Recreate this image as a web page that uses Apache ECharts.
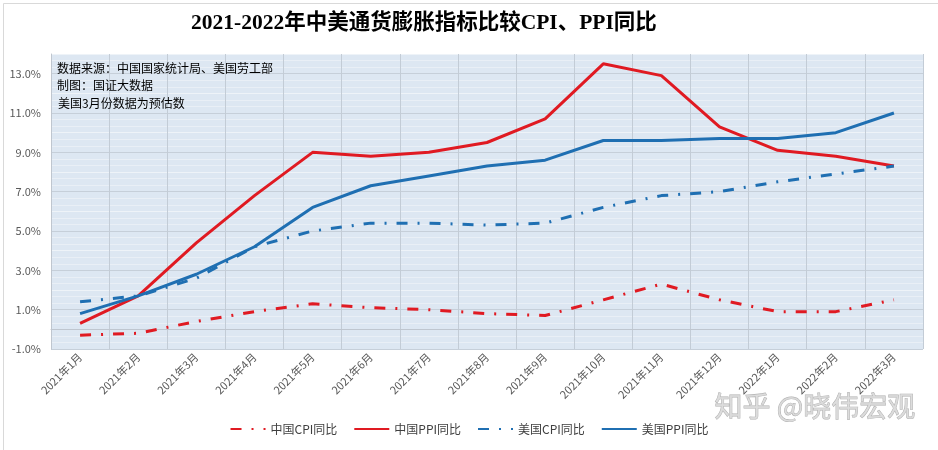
<!DOCTYPE html>
<html>
<head>
<meta charset="utf-8">
<script src="https://cdn.jsdelivr.net/npm/echarts@6/dist/echarts.min.js"></script>
<style>
html,body{margin:0;padding:0;background:#fff;}
#chart{width:938px;height:450px;}
</style>
</head>
<body>
<div id="chart"></div>
<script>
const months = ['2021年1月','2021年2月','2021年3月','2021年4月','2021年5月','2021年6月','2021年7月','2021年8月','2021年9月','2021年10月','2021年11月','2021年12月','2022年1月','2022年2月','2022年3月'];
const chinaCPI = [-0.3, -0.2, 0.4, 0.9, 1.3, 1.1, 1.0, 0.8, 0.7, 1.5, 2.3, 1.5, 0.9, 0.9, 1.5];
const chinaPPI = [0.3, 1.7, 4.4, 6.8, 9.0, 8.8, 9.0, 9.5, 10.7, 13.5, 12.9, 10.3, 9.1, 8.8, 8.3];
const usCPI = [1.4, 1.7, 2.6, 4.2, 5.0, 5.4, 5.4, 5.3, 5.4, 6.2, 6.8, 7.0, 7.5, 7.9, 8.3];
const usPPI = [0.8, 1.7, 2.8, 4.2, 6.2, 7.3, 7.8, 8.3, 8.6, 9.6, 9.6, 9.7, 9.7, 10.0, 11.0];
const seriesNames = ['中国CPI同比','中国PPI同比','美国CPI同比','美国PPI同比'];
const titleText = '2021-2022年中美通货膨胀指标比较CPI、PPI同比';
const notes = ['数据来源：中国国家统计局、美国劳工部','制图：国证大数据','美国3月份数据为预估数'];
const watermark = '知乎 @晓伟宏观';

const RED = '#e01a22';
const BLUE = '#1f6fb2';
const dashDot = [11, 10, 2, 10];
const cjk = "'Noto Sans CJK SC', 'Noto Sans', sans-serif";

const chart = echarts.init(document.getElementById('chart'));
function mkSeries(name, data, color, dashed) {
  return {
    name: name, type: 'line', data: data, symbol: 'none', smooth: false,
    lineStyle: { color: color, width: 3, type: dashed ? dashDot : 'solid', cap: 'butt' },
    itemStyle: { color: color },
    emphasis: { disabled: true }
  };
}
chart.setOption({
  animation: false,
  backgroundColor: '#ffffff',
  title: {
    text: titleText, left: 186, top: 8,
    textStyle: { fontSize: 21.5, fontWeight: 'bold', color: '#000', fontFamily: "'Liberation Serif', 'Noto Sans CJK SC', serif" }
  },
  grid: { left: 51, right: 15, top: 54, bottom: 101, show: true, backgroundColor: '#dde7f2', borderWidth: 0 },
  legend: {
    data: seriesNames, bottom: 10, left: 'center', itemWidth: 35, itemHeight: 10, itemGap: 16,
    itemStyle: { opacity: 0 },
    textStyle: { fontSize: 12, color: '#404040', fontFamily: cjk }
  },
  xAxis: {
    type: 'category', data: months, boundaryGap: true,
    axisLine: { lineStyle: { color: '#bfc6cf' } },
    axisTick: { show: false },
    axisLabel: { rotate: 45, interval: 0, fontSize: 11, color: '#595959', margin: 6, fontFamily: cjk },
    splitLine: { show: true, lineStyle: { color: '#c3ccd6', width: 1 } }
  },
  yAxis: {
    type: 'value', min: -1, max: 14, interval: 1,
    axisLine: { show: true, lineStyle: { color: '#bfc6cf' } },
    axisTick: { show: false },
    axisLabel: {
      fontSize: 11, color: '#595959', margin: 10, fontFamily: cjk,
      formatter: function (v) { const r = Math.round(v); return ((r + 1) % 2 === 0) ? r.toFixed(1) + '%' : ''; }
    },
    splitLine: { show: true, lineStyle: { color: ['#c6cfd9', '#eef3f8'], width: 1 } },
    minorTick: { show: false, splitNumber: 3 },
    minorSplitLine: { show: true, lineStyle: { color: '#e9eff6', width: 1 } }
  },
  series: [
    mkSeries(seriesNames[0], chinaCPI, RED, true),
    mkSeries(seriesNames[1], chinaPPI, RED, false),
    mkSeries(seriesNames[2], usCPI, BLUE, true),
    mkSeries(seriesNames[3], usPPI, BLUE, false)
  ],
  graphic: [
    { type: 'rect', left: 1, top: 1, shape: { width: 935, height: 447 }, style: { fill: 'none', stroke: '#d9d9d9', lineWidth: 1 }, silent: true, z: -1 },
    { type: 'text', left: 57, top: 62, z: 100, style: { text: notes[0], fontSize: 12, fill: '#000', fontFamily: cjk } },
    { type: 'text', left: 57, top: 79, z: 100, style: { text: notes[1], fontSize: 12, fill: '#000', fontFamily: cjk } },
    { type: 'text', left: 58, top: 97, z: 100, style: { text: notes[2], fontSize: 12, fill: '#000', fontFamily: cjk } },
    { type: 'text', left: 714, top: 392, z: 100, style: { text: watermark, fontSize: 28, fill: 'rgba(215,215,215,0.85)', stroke: 'rgba(140,140,140,0.7)', lineWidth: 0.8, fontFamily: cjk } }
  ]
});
</script>
</body>
</html>
